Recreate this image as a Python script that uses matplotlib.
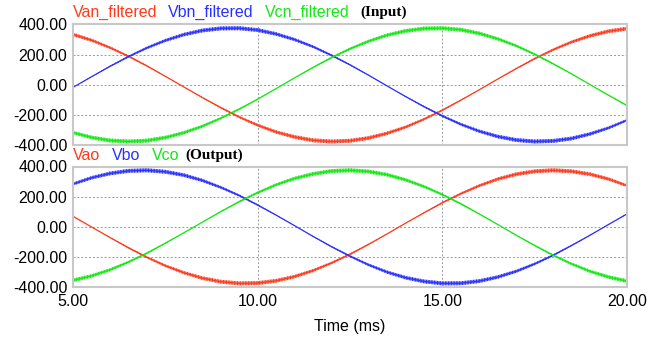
import matplotlib
matplotlib.use("Agg")
import matplotlib.pyplot as plt
import numpy as np

# ---------------- data ----------------
t_ms = [5.0, 5.5, 6.0, 6.5, 7.0, 7.5, 8.0, 8.5, 9.0, 9.5, 10.0, 10.5, 11.0, 11.5,
        12.0, 12.5, 13.0, 13.5, 14.0, 14.5, 15.0, 15.5, 16.0, 16.5, 17.0, 17.5,
        18.0, 18.5, 19.0, 19.5, 20.0]

van_filtered = [333, 295, 246, 189, 125, 56, -14, -84, -151, -213, -267, -312, -345,
                -367, -375, -370, -352, -321, -280, -228, -168, -102, -33, 38, 107,
                173, 232, 283, 324, 354, 371]
vbn_filtered = [-17, 53, 122, 186, 244, 293, 332, 359, 373, 374, 362, 336, 299, 252,
                195, 132, 64, -7, -77, -144, -206, -261, -307, -342, -365, -375, -371,
                -355, -325, -285, -234]
vcn_filtered = [-316, -348, -368, -375, -369, -349, -317, -274, -221, -161, -95, -25,
                46, 115, 180, 238, 288, 328, 356, 372, 374, 364, 340, 304, 258, 202,
                139, 72, 1, -69, -137]

vao = [70, 0, -70, -138, -201, -257, -303, -339, -363, -374, -372, -357, -329, -289,
       -239, -181, -116, -47, 24, 93, 160, 220, 273, 317, 349, 368, 375, 368, 349,
       317, 273]
vbo = [284, 325, 354, 371, 375, 365, 343, 308, 262, 208, 145, 78, 8, -63, -131, -194,
       -251, -299, -336, -361, -374, -373, -359, -332, -294, -245, -188, -123, -55,
       16, 86]
vco = [-354, -325, -284, -233, -174, -108, -39, 31, 101, 167, 227, 279, 321, 351,
       370, 375, 367, 346, 312, 268, 214, 153, 86, 16, -55, -123, -188, -245, -294,
       -332, -359]

ripple_frac = 0.035  # switching ripple half-width relative to |V|

x_ticks = [5.0, 10.0, 15.0, 20.0]
y_ticks = [-400, -200, 0, 200, 400]

top_names = ["Van_filtered", "Vbn_filtered", "Vcn_filtered"]
bot_names = ["Vao", "Vbo", "Vco"]

# ---------------- style ----------------
RED = "#ff3a1e"
BLUE = "#2a30ff"
GREEN = "#14e814"
COLORS = [RED, BLUE, GREEN]
W, H = 661, 337
FS = 11.5

plt.rcParams["font.family"] = ["Liberation Sans", "DejaVu Sans"]
plt.rcParams["hatch.linewidth"] = 0.8
fig = plt.figure(figsize=(W / 100, H / 100), dpi=100)


def px_axes(left, top, right, bottom):
    return fig.add_axes([left / W, 1 - bottom / H, (right - left) / W, (bottom - top) / H])


ax_top = px_axes(73, 24.3, 627, 145.3)
ax_bot = px_axes(73, 166.5, 627, 287.3)

t = np.array(t_ms)
for ax, series in ((ax_top, [van_filtered, vbn_filtered, vcn_filtered]),
                   (ax_bot, [vao, vbo, vco])):
    for vals, c in zip(series, COLORS):
        v = np.array(vals, dtype=float)
        r = ripple_frac * np.abs(v)
        ax.fill_between(t, v - r, v + r, facecolor=c, alpha=0.55, lw=0)
        ax.fill_between(t, v - r, v + r, facecolor="none", edgecolor=c,
                        hatch="||||||", lw=0)
        ax.plot(t, v, color=c, lw=0.9)
    ax.set_xlim(5, 20)
    ax.set_ylim(-400, 400)
    ax.set_xticks(x_ticks)
    ax.set_yticks(y_ticks)
    ax.set_yticklabels([f"{y:.2f}" for y in y_ticks], fontsize=FS)
    ax.tick_params(length=0, pad=4, labelsize=FS, colors="#000000")
    ax.grid(True, color="#999999", ls=(0, (2, 2)), lw=0.7)
    ax.set_axisbelow(True)
    for s in ax.spines.values():
        s.set_color("#c8c8c8")
        s.set_linewidth(1.5)

ax_top.set_xticklabels([])
ax_bot.set_xticklabels([f"{x:.2f}" for x in x_ticks], fontsize=FS)
ax_bot.tick_params(axis="x", pad=5)
ax_bot.set_xlabel("Time (ms)", fontsize=FS, labelpad=7)


def ftext(x, y, s, **kw):
    fig.text(x / W, 1 - y / H, s, va="center", ha="left", **kw)


# legend-like labels
for name, c, x in zip(top_names, COLORS, [73, 168, 265]):
    ftext(x, 12.5, name, color=c, fontsize=FS)
ftext(360, 12.5, "(Input)", color="black", fontsize=11, fontweight="bold",
      family=["Liberation Serif", "DejaVu Serif"])
for name, c, x in zip(bot_names, COLORS, [73, 112, 152]):
    ftext(x, 155.5, name, color=c, fontsize=FS)
ftext(185, 155.5, "(Output)", color="black", fontsize=11, fontweight="bold",
      family=["Liberation Serif", "DejaVu Serif"])

fig.savefig("out.png", dpi=100)
